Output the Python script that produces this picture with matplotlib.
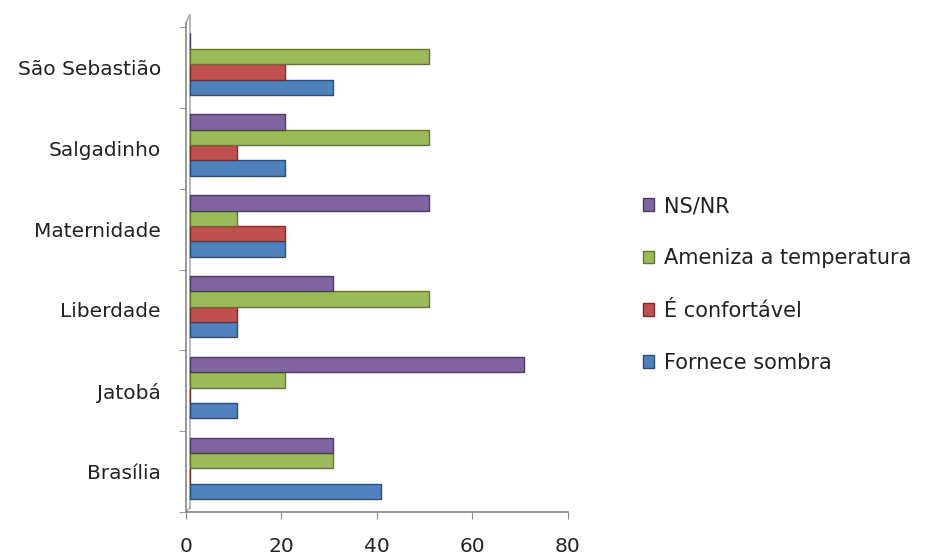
import matplotlib
matplotlib.use("Agg")
import matplotlib.pyplot as plt
import numpy as np

categories = ["Brasília", "Jatobá", "Liberdade", "Maternidade", "Salgadinho", "São Sebastião"]
series_names = ["Fornece sombra", "É confortável", "Ameniza a temperatura", "NS/NR"]
fornece_sombra = [40, 10, 10, 20, 20, 30]
e_confortavel = [0, 0, 10, 20, 10, 20]
ameniza_temp = [30, 20, 50, 10, 50, 50]
ns_nr = [30, 70, 30, 50, 20, 0]
x_ticks = [0, 20, 40, 60, 80]

values = [fornece_sombra, e_confortavel, ameniza_temp, ns_nr]
colors = ["#4F81BD", "#C0504D", "#9BBB59", "#8064A2"]
edges = ["#2C4D75", "#772C2A", "#5F7530", "#4D3B62"]

plt.rcParams['font.family'] = ['DejaVu Sans']
fig = plt.figure(figsize=(9.25, 5.58), dpi=100)
ax = fig.add_axes([0.201, 0.0824, 0.413, 0.8692])

y = np.arange(len(categories))
h = 0.19
offsets = [-1.5 * h, -0.5 * h, 0.5 * h, 1.5 * h]
for vals, col, ec, off, name in zip(values, colors, edges, offsets, series_names):
    ax.barh(y + off + 0.04, vals, height=h, left=0.8, color=col, edgecolor=ec,
            linewidth=1.0, label=name, zorder=3)

ax.set_xlim(0, 80)
ax.set_ylim(-0.5, len(categories) - 0.5)
ax.set_xticks(x_ticks)
ax.set_xticklabels([str(t) for t in x_ticks], fontsize=14.5, color="#222222")
ax.set_yticks(y)
ax.set_yticklabels(categories, fontsize=14.5, color="#222222")
ax.set_yticks(np.arange(len(categories) + 1) - 0.5, minor=True)
ax.tick_params(axis='y', which='major', length=0, pad=18)
ax.tick_params(axis='y', which='minor', length=5, color="#888888", direction='out')
ax.tick_params(axis='x', length=5, color="#888888", direction='out', pad=13)

for s in ["top", "right"]:
    ax.spines[s].set_visible(False)
ax.spines["left"].set_color("#888888")
ax.spines["bottom"].set_color("#888888")
ax.spines["left"].set_linewidth(1.2)
ax.spines["bottom"].set_linewidth(1.2)
ax.spines["left"].set_bounds(-0.5, len(categories) - 0.45)
# 3D wall lines
ax.plot([0.8, 0.8], [-0.45, len(categories) - 0.35], color="#AAAAAA", lw=1.2,
        clip_on=False, zorder=1)
ax.plot([0, 0.8], [len(categories) - 0.45, len(categories) - 0.35],
        color="#AAAAAA", lw=1.2, clip_on=False, zorder=1)
ax.plot([0, 0.8], [-0.5, -0.45], color="#AAAAAA", lw=1.0, clip_on=False, zorder=1)

handles, labels = ax.get_legend_handles_labels()
leg = fig.legend(handles[::-1], labels[::-1], loc="center left",
                 bbox_to_anchor=(0.695, 0.490), frameon=False, fontsize=15,
                 handlelength=0.55, handleheight=0.55, handletextpad=0.45,
                 labelspacing=1.55, borderpad=0, borderaxespad=0)
for t in leg.get_texts():
    t.set_color("#222222")

fig.savefig("out.png", dpi=100)
